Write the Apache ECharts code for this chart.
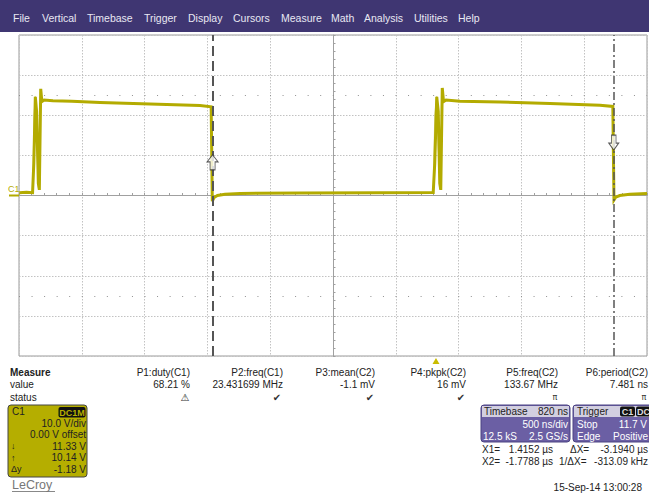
<!DOCTYPE html>
<html><head><meta charset="utf-8">
<script src="https://cdn.jsdelivr.net/npm/echarts@6/dist/echarts.min.js"></script>
<style>html,body{margin:0;padding:0;background:#fff}#c{width:649px;height:495px}</style>
</head><body><div id="c"></div>
<script>
// ---------- values ----------
// channel C1 trace: time in ns relative to the trigger, voltage in V
const traceTime = [-3318, -3260, -3212, -3202, -3190, -3180, -3166, -3158, -3147, -3138, -3120, -3050, -2900, -2675, -2277, -1879, -1790, -1781, -1767, -1740, -1680, -1560, -1083, -446, -22,
  -10, 6, 18, 30, 38, 50, 60, 80, 191, 510, 908, 1306, 1408, 1417, 1431, 1463, 1543, 1680];
const traceVolt = [0.7, 0.8, 0.7, 8, 24.6, 21, 3, 1.4, 26.6, 23.4, 23.8, 23.6, 23.5, 23.2, 22.8, 22.4, 22.1, -1.4, -0.5, 0, 0.3, 0.5, 0.65, 0.7, 0.75,
  8, 24.6, 21, 3, 1.4, 26.8, 23.4, 23.8, 23.5, 23.3, 22.9, 22.5, 22.2, -1.1, -0.4, 0, 0.3, 0.5];
// faint persistence strokes on the rising edges
const ghostTime = [-3212, -3200, -3190, -3178, -3166, -22, -10, 6, 18, 30];
const ghostVolt = [0.7, 20, 24.8, 12, 2, 0.7, 20, 24.8, 12, 2];

const timebaseDelay = 820;   // ns  (screen centre at -820 ns)
const timePerDiv = 500;      // ns/div
const voltsPerDiv = 10;      // V/div
const cursorX1 = 1415.2, cursorX2 = -1778.8;  // ns
const cursorV1 = 11.33, cursorV2 = 10.14;     // V

const menuItems = ['File', 'Vertical', 'Timebase', 'Trigger', 'Display', 'Cursors', 'Measure', 'Math', 'Analysis', 'Utilities', 'Help'];
const measureNames = ['P1:duty(C1)', 'P2:freq(C1)', 'P3:mean(C2)', 'P4:pkpk(C2)', 'P5:freq(C2)', 'P6:period(C2)'];
const measureValues = ['68.21 %', '23.431699 MHz', '-1.1 mV', '16 mV', '133.67 MHz', '7.481 ns'];
const measureStatus = ['\u26A0', '\u2714', '\u2714', '\u2714', '\u03C0', '\u03C0'];
const c1Lines = ['10.0 V/div', '0.00 V offset', '11.33 V', '10.14 V', '-1.18 V'];
const c1Marks = ['', '', '\u2193', '\u2191', '\u0394y'];
const timebaseText = ['Timebase', '820 ns', '500 ns/div', '12.5 kS', '2.5 GS/s'];
const triggerText = ['Trigger', 'C1', 'DC', 'Stop', '11.7 V', 'Edge', 'Positive'];
const cursorText = ['X1=', '1.4152 \u00B5s', '\u0394X=', '-3.1940 \u00B5s', 'X2=', '-1.7788 \u00B5s', '1/\u0394X=', '-313.09 kHz'];
const stampText = '15-Sep-14 13:00:28';

// ---------- drawing ----------
const FONT = '"Liberation Sans", Arial, sans-serif';
const TRACE = '#b3ab00';
const chart = echarts.init(document.getElementById('c'), null, {renderer: 'svg'});

function T(text, x, y, o) {
  o = o || {};
  return {type: 'text', x: x, y: y, z: 100, silent: true,
    style: {text: text, fill: o.fill || '#222', fontSize: o.size || 10, fontFamily: o.family || FONT,
      fontWeight: o.weight || 'normal', align: o.align || 'left', textAlign: o.align || 'left',
      verticalAlign: 'middle', textVerticalAlign: 'middle'}};
}
function R(x, y, w, h, fill, stroke, r) {
  return {type: 'rect', z: 90, silent: true, shape: {x: x, y: y, width: w, height: h, r: r || 0},
    style: {fill: fill, stroke: stroke || null, lineWidth: stroke ? 1 : 0}};
}

const g = [];
// menu bar
g.push(R(0, 0, 649, 32, '#3f3672'));
const menuX = [13, 42, 87, 144, 188, 233, 281, 331, 364, 414, 458];
menuItems.forEach((m, i) => g.push(T(m, menuX[i], 18, {fill: '#e8e8f2', size: 10.5})));
// C1 ground marker
g.push(T('C1', 8, 189, {fill: TRACE, size: 9}));
g.push({type: 'line', z: 95, silent: true, shape: {x1: 9, y1: 195.5, x2: 19, y2: 195.5}, style: {stroke: TRACE, lineWidth: 2}});

// measurement table
g.push(T('Measure', 10, 372, {weight: 'bold'}));
g.push(T('value', 10, 384));
g.push(T('status', 10, 397));
const colR = [190, 283, 375, 466, 558, 648];
const statX = [185, 277, 370, 461, 555, 644];
measureNames.forEach((n, i) => {
  g.push(T(n, colR[i], 372, {align: 'right'}));
  g.push(T(measureValues[i], colR[i], 384, {align: 'right'}));
  g.push(T(measureStatus[i], statX[i], 397, {align: 'center', size: i < 4 ? 10 : 8, family: '"DejaVu Sans", sans-serif', fill: '#333', weight: i === 0 ? 'bold' : 'normal'}));
});

// C1 channel box
g.push(R(8, 405, 79, 72, '#b5ae00', '#444', 3));
g.push(T('C1', 12, 411));
g.push(R(58.5, 407, 27, 10.5, '#111', null, 2));
g.push(T('DC1M', 72, 412.5, {align: 'center', fill: '#b5ae00', size: 9, weight: 'bold'}));
const c1Y = [423, 434, 446, 457.5, 469];
c1Lines.forEach((s, i) => {
  g.push(T(s, 86, c1Y[i], {align: 'right'}));
  if (c1Marks[i]) g.push(T(c1Marks[i], 11, c1Y[i], {size: 9}));
});
g.push(T('LeCroy', 12, 485, {size: 12.5, fill: '#777'}));
g.push({type: 'line', z: 95, silent: true, shape: {x1: 12, y1: 491.5, x2: 55, y2: 491.5}, style: {stroke: '#888', lineWidth: 1}});

// Timebase box
g.push(R(481, 405, 89, 37, '#6b5fa4', '#4b4282', 3));
g.push(R(482, 406, 87, 11, '#d2cfe0'));
g.push(T(timebaseText[0], 484, 411.5));
g.push(T(timebaseText[1], 568, 411.5, {align: 'right'}));
g.push(T(timebaseText[2], 568, 424, {align: 'right', fill: '#fff'}));
g.push(T(timebaseText[3], 483, 436, {fill: '#fff'}));
g.push(T(timebaseText[4], 568, 436, {align: 'right', fill: '#fff'}));
// Trigger box
g.push(R(573, 405, 80, 37, '#6b5fa4', '#4b4282', 3));
g.push(R(574, 406, 78, 11, '#d2cfe0'));
g.push(T(triggerText[0], 577, 411.5));
g.push(R(620, 406.5, 15, 10, '#111', null, 2));
g.push(R(636, 406.5, 15, 10, '#111', null, 2));
g.push(T(triggerText[1], 627.5, 411.5, {align: 'center', fill: '#ddd', size: 9, weight: 'bold'}));
g.push(T(triggerText[2], 643.5, 411.5, {align: 'center', fill: '#ddd', size: 9, weight: 'bold'}));
g.push(T(triggerText[3], 577, 424, {fill: '#fff'}));
g.push(T(triggerText[4], 647, 424, {align: 'right', fill: '#fff'}));
g.push(T(triggerText[5], 577, 436, {fill: '#fff'}));
g.push(T(triggerText[6], 648, 436, {align: 'right', fill: '#fff'}));
// cursor readouts
g.push(T(cursorText[0], 482, 449));
g.push(T(cursorText[1], 553, 449, {align: 'right'}));
g.push(T(cursorText[2], 570, 449));
g.push(T(cursorText[3], 648, 449, {align: 'right'}));
g.push(T(cursorText[4], 482, 461));
g.push(T(cursorText[5], 553, 461, {align: 'right'}));
g.push(T(cursorText[6], 559, 461));
g.push(T(cursorText[7], 648, 461, {align: 'right'}));
g.push(T(stampText, 642, 487.5, {align: 'right'}));

const toScreen = t => t + timebaseDelay;
const half = 5 * timePerDiv, vHalf = 4 * voltsPerDiv;
const upArrow = 'path://M5.5,0 L11,7 L8,7 L8,15 L3,15 L3,7 L0,7 Z';
const downArrow = 'path://M3,0 L8,0 L8,8 L11,8 L5.5,15 L0,8 L3,8 Z';

chart.setOption({
  animation: false,
  grid: {left: 19, top: 35, width: 628, height: 321, show: true, borderColor: '#9a9a9a', borderWidth: 1, backgroundColor: '#fff'},
  xAxis: {type: 'value', min: -half, max: half, interval: timePerDiv,
    axisLine: {onZero: true, lineStyle: {color: '#a0a0a0', width: 1}},
    axisTick: {show: true, inside: true, length: 2.5, lineStyle: {color: '#a0a0a0'}},
    minorTick: {show: true, splitNumber: 5, length: 2.5, lineStyle: {color: '#a0a0a0'}},
    axisLabel: {show: false},
    splitLine: {show: true, lineStyle: {color: '#c2c2c2', type: [1.5, 1.5], width: 1}}},
  yAxis: {type: 'value', min: -vHalf, max: vHalf, interval: voltsPerDiv,
    axisLine: {onZero: true, lineStyle: {color: '#a0a0a0', width: 1}},
    axisTick: {show: true, inside: true, length: 2.5, lineStyle: {color: '#a0a0a0'}},
    minorTick: {show: true, splitNumber: 5, length: 2.5, lineStyle: {color: '#a0a0a0'}},
    axisLabel: {show: false},
    splitLine: {show: true, lineStyle: {color: '#c2c2c2', type: [1.5, 1.5], width: 1}}},
  series: [
    {type: 'line', name: 'marks', data: [], silent: true, z: 1,
      markLine: {silent: true, symbol: 'none', label: {show: false},
        lineStyle: {color: '#909090', width: 1, type: [1, 11.55]},
        data: [{yAxis: 2.5 * voltsPerDiv}, {yAxis: -2.5 * voltsPerDiv}]}},
    {type: 'line', name: 'ghost', showSymbol: false, silent: true, z: 2,
      data: ghostTime.map((t, i) => [toScreen(t), ghostVolt[i]]).slice(0, 5),
      lineStyle: {color: '#d9d68c', width: 1}},
    {type: 'line', name: 'ghost2', showSymbol: false, silent: true, z: 2,
      data: ghostTime.map((t, i) => [toScreen(t), ghostVolt[i]]).slice(5),
      lineStyle: {color: '#d9d68c', width: 1}},
    {type: 'line', name: 'C1', showSymbol: false, silent: true, z: 3,
      data: traceTime.map((t, i) => [toScreen(t), traceVolt[i]]),
      lineStyle: {color: TRACE, width: 3, join: 'miter'},
      markLine: {silent: true, symbol: 'none', label: {show: false},
        data: [
          {xAxis: toScreen(cursorX2), lineStyle: {color: '#555', width: 2, type: [10, 5]}},
          {xAxis: toScreen(cursorX1), lineStyle: {color: '#555', width: 1.5, type: [8, 3, 2, 3]}}
        ]},
      markPoint: {silent: true, label: {show: false},
        data: [{coord: [toScreen(0), -vHalf], symbol: 'triangle', symbolSize: [7, 6], symbolOffset: [0, 5], itemStyle: {color: '#c9bc00'}}]}},
    {type: 'scatter', name: 'cursor marks', silent: true, z: 5,
      data: [
        {value: [toScreen(cursorX2), cursorV2], symbol: upArrow, symbolSize: [11, 15], symbolOffset: [0, 7.5]},
        {value: [toScreen(cursorX1), cursorV1], symbol: downArrow, symbolSize: [10, 15], symbolOffset: [0, -7.5]}
      ],
      itemStyle: {color: '#fff', borderColor: '#333', borderWidth: 1}}
  ],
  graphic: g
});
</script></body></html>
